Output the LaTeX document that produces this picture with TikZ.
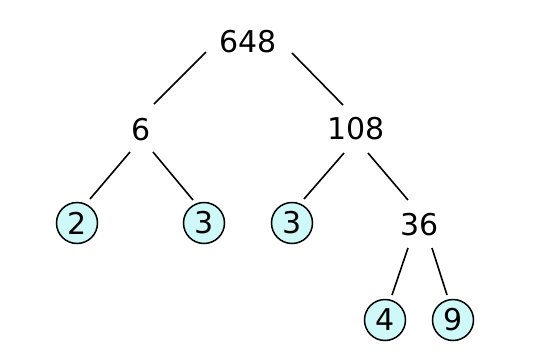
\documentclass[tikz,border=0pt]{standalone}
\usepackage{fontspec}
\setmainfont{DejaVu Sans}
\usetikzlibrary{positioning}
\definecolor{leafcyan}{HTML}{CFF8F8}

\begin{document}
\begin{tikzpicture}[
  x=1pt, y=-1pt,
  num/.style={inner sep=0pt, font=\fontsize{30}{30}\selectfont},
  leaf/.style={num, circle, draw=black, line width=1.5pt, fill=leafcyan, minimum size=41pt},
  edge/.style={black, line width=1.6pt}
]
\useasboundingbox (0,0) rectangle (544,362);

\node[num] (n648) at (248,42) {648};
\node[num] (n6) at (141,130) {6};
\node[num] (n108) at (356,129) {108};
\node[leaf] (l2) at (77,223) {2};
\node[leaf] (l3a) at (204,223) {3};
\node[leaf] (l3b) at (292,223) {3};
\node[num] (n36) at (420,225) {36};
\node[leaf] (l4) at (385,320) {4};
\node[leaf] (l9) at (453,320) {9};

\draw[edge] ([shift={(-42pt,-10pt)}]n648.center) -- ([shift={(13pt,26pt)}]n6.center);
\draw[edge] ([shift={(44pt,-11pt)}]n648.center) -- ([shift={(-13pt,24pt)}]n108.center);
\draw[edge] ([shift={(-11pt,-22pt)}]n6.center) -- ([shift={(13pt,24pt)}]l2.center);
\draw[edge] ([shift={(12pt,-22pt)}]n6.center) -- ([shift={(-11pt,23pt)}]l3a.center);
\draw[edge] ([shift={(-12pt,-24pt)}]n108.center) -- ([shift={(12pt,24pt)}]l3b.center);
\draw[edge] ([shift={(12pt,-24pt)}]n108.center) -- ([shift={(-12pt,25pt)}]n36.center);
\draw[edge] ([shift={(-12pt,-23pt)}]n36.center) -- ([shift={(7pt,25pt)}]l4.center);
\draw[edge] ([shift={(12pt,-23pt)}]n36.center) -- ([shift={(-6pt,25pt)}]l9.center);
\end{tikzpicture}
\end{document}
